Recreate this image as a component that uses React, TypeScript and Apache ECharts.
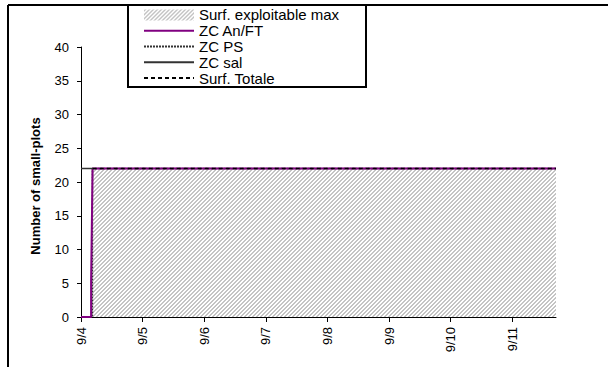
import React, { useEffect, useRef } from "react";
import * as echarts from "echarts";

// x values are days since 9/4 00:00
const xTickLabels = ["9/4", "9/5", "9/6", "9/7", "9/8", "9/9", "9/10", "9/11"];
const xTickValues = [0, 1, 2, 3, 4, 5, 6, 7];
const xMax = 7.71;

const surfExploitableX = [0, 0.19, 0.19, 7.71];
const surfExploitableY = [0, 0, 22, 22];

const zcAnFtX = [0, 0.164, 0.164, 0.172, 0.172, 0.18, 0.18, 0.188, 0.188, 7.71];
const zcAnFtY = [0, 0, 5.5, 5.5, 11, 11, 16.5, 16.5, 22, 22];

const zcPsX = [0, 0.185, 0.185, 7.71];
const zcPsY = [0, 0, 22, 22];

const zcSalX = [0, 0.195];
const zcSalY = [22, 22];

const surfTotaleX = [0.19, 7.71];
const surfTotaleY = [22, 22];

const legendNames = ["Surf. exploitable max", "ZC An/FT", "ZC PS", "ZC sal", "Surf. Totale"];

const zip = (xs: number[], ys: number[]) => xs.map((x, i) => [x, ys[i]]);

function makeHatch(): string {
  const c = document.createElement("canvas");
  c.width = 4;
  c.height = 4;
  const ctx = c.getContext("2d")!;
  ctx.fillStyle = "#ffffff";
  ctx.fillRect(0, 0, 4, 4);
  ctx.fillStyle = "#c4c4c4";
  for (let x = 0; x < 4; x++) {
    for (let y = 0; y < 4; y++) {
      const m = (x + y) % 4;
      if (m === 0 || m === 1) ctx.fillRect(x, y, 1, 1);
    }
  }
  return c.toDataURL();
}

export default function App() {
  const ref = useRef<HTMLDivElement>(null);
  useEffect(() => {
    if (!ref.current) return;
    const chart = echarts.init(ref.current, undefined, { renderer: "svg" });
    const hatch = { image: makeHatch(), repeat: "repeat" } as any;
    const font = "'Liberation Sans', Arial, sans-serif";
    chart.setOption({
      animation: false,
      backgroundColor: "#ffffff",
      textStyle: { fontFamily: font },
      grid: { left: 81, right: 52, top: 47, bottom: 50 },
      graphic: [
        { type: "line", z: 1, shape: { x1: 8, y1: 5, x2: 608, y2: 5 }, style: { stroke: "#000", lineWidth: 2 } },
        { type: "line", z: 1, shape: { x1: 8, y1: 5, x2: 8, y2: 367 }, style: { stroke: "#000", lineWidth: 2 } },
        { type: "rect", z: 1, shape: { x: 128, y: 5, width: 238, height: 82 }, style: { fill: "#fff", stroke: "#000", lineWidth: 2 } },
      ],
      legend: {
        orient: "vertical",
        left: 143,
        top: 7,
        padding: 0,
        itemWidth: 50,
        itemHeight: 11,
        itemGap: 0,
        z: 5,
        itemStyle: { opacity: 0 },
        textStyle: { fontFamily: font, fontSize: 15, color: "#000", lineHeight: 15.8 },
        data: [
          { name: legendNames[0], icon: "rect", itemStyle: { color: hatch, borderWidth: 0, opacity: 1 } },
          { name: legendNames[1] },
          { name: legendNames[2] },
          { name: legendNames[3] },
          { name: legendNames[4] },
        ],
      },
      xAxis: {
        type: "value",
        min: 0,
        max: xMax,
        interval: 1,
        splitLine: { show: false },
        axisLine: { lineStyle: { color: "#000", width: 1 } },
        axisTick: { show: true, length: 5, lineStyle: { color: "#000" }, customValues: xTickValues },
        axisLabel: {
          rotate: 90,
          margin: 10,
          fontSize: 13,
          color: "#000",
          fontFamily: font,
          customValues: xTickValues,
          formatter: (v: number) => xTickLabels[Math.round(v)] ?? "",
        },
      },
      yAxis: {
        type: "value",
        min: 0,
        max: 40,
        interval: 5,
        name: "Number of small-plots",
        nameLocation: "middle",
        nameGap: 39,
        nameTextStyle: { fontSize: 13, fontWeight: "bold", color: "#000", fontFamily: font, padding: [0, 8, 0, 0] },
        splitLine: { show: false },
        axisLine: { show: true, lineStyle: { color: "#000", width: 1 } },
        axisTick: { show: true, length: 4, lineStyle: { color: "#000" } },
        axisLabel: { fontSize: 13, color: "#000", margin: 12, fontFamily: font },
      },
      series: [
        {
          name: legendNames[0],
          type: "line",
          data: zip(surfExploitableX, surfExploitableY),
          showSymbol: false,
          symbol: "none",
          lineStyle: { width: 0, color: "#c0c0c0" },
          itemStyle: { color: "#c0c0c0" },
          areaStyle: { color: hatch, opacity: 1 },
          z: 2,
        },
        {
          name: legendNames[2],
          type: "line",
          data: zip(zcPsX, zcPsY),
          symbol: "none",
          lineStyle: { width: 1.5, color: "#333", type: [2, 1] },
          itemStyle: { color: "#333" },
          z: 3,
        },
        {
          name: legendNames[1],
          type: "line",
          data: zip(zcAnFtX, zcAnFtY),
          symbol: "none",
          lineStyle: { width: 2, color: "#800080" },
          itemStyle: { color: "#800080" },
          z: 4,
        },
        {
          name: legendNames[3],
          type: "line",
          data: zip(zcSalX, zcSalY),
          symbol: "none",
          lineStyle: { width: 1.5, color: "#333" },
          itemStyle: { color: "#333" },
          z: 5,
        },
        {
          name: legendNames[4],
          type: "line",
          data: zip(surfTotaleX, surfTotaleY),
          symbol: "none",
          lineStyle: { width: 1.5, color: "#000", type: [4, 3] },
          itemStyle: { color: "#000" },
          z: 6,
        },
      ],
    });
    return () => chart.dispose();
  }, []);
  return <div ref={ref} style={{ position: "absolute", left: 0, top: 0, width: 608, height: 367 }} />;
}
